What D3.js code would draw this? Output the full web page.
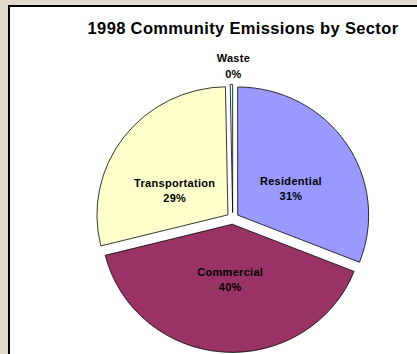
<!DOCTYPE html>
<html>
<head>
<meta charset="utf-8">
<script src="https://cdn.jsdelivr.net/npm/d3@7"></script>
<style>
  html, body { margin: 0; padding: 0; background: #e4dccd; }
  svg { display: block; }
</style>
</head>
<body>
<svg id="chart" width="417" height="354"></svg>
<script>
// Sector shares (percent of 1998 community emissions)
const sectors = ["Residential", "Commercial", "Transportation", "Waste"];
const shares  = [31.0, 40.1, 28.6, 0.3];
const colors  = ["#9999ff", "#993366", "#ffffcc", "#ccffff"];
const title   = "1998 Community Emissions by Sector";

const svg = d3.select("#chart");
const W = 417, H = 354;

// beige page and white chart panel with dark left/top edge
svg.append("rect").attr("width", W).attr("height", H).attr("fill", "#e4dccd");
svg.append("rect").attr("x", 9).attr("y", 6).attr("width", W).attr("height", H)
  .attr("fill", "#ffffff").attr("stroke", "#000").attr("stroke-width", 2);

svg.append("text")
  .attr("x", 243).attr("y", 34)
  .attr("text-anchor", "middle")
  .attr("font-family", "Liberation Sans, Arial, sans-serif")
  .attr("font-weight", "bold").attr("font-size", 16.5)
  .attr("letter-spacing", 0.35)
  .attr("fill", "#000")
  .text(title);

const data = sectors.map((s, i) => ({ sector: s, value: shares[i], color: colors[i] }));
const total = d3.sum(shares);

const pie = d3.pie().value(d => d.value).sort(null).startAngle(0).endAngle(2 * Math.PI);
const arcs = pie(data);

const R = 131, explode = 6, cx = 232.7, cy = 218.4, sy = 0.978;
const arc = d3.arc().innerRadius(0).outerRadius(R);

const g = svg.append("g").attr("transform", `translate(${cx},${cy}) scale(1,${sy})`);

const mid = a => (a.startAngle + a.endAngle) / 2;

g.selectAll("path.slice")
  .data(arcs)
  .join("path")
  .attr("class", "slice")
  .attr("transform", a => `translate(${Math.sin(mid(a)) * explode},${-Math.cos(mid(a)) * explode})`)
  .attr("d", arc)
  .attr("fill", a => a.data.color)
  .attr("stroke", "#000")
  .attr("stroke-width", 0.8)
  .attr("stroke-linejoin", "miter");

// data labels: name + rounded percentage
const nudge = { Residential: [2, 1], Commercial: [2, 6], Transportation: [-4, 5], Waste: [2, 1] };
const labels = svg.append("g")
  .attr("font-family", "Liberation Sans, Arial, sans-serif")
  .attr("font-weight", "bold").attr("font-size", 11)
  .attr("letter-spacing", 0.3)
  .attr("fill", "#000")
  .attr("text-anchor", "middle");

arcs.forEach(a => {
  const m = mid(a);
  const sx = Math.sin(m), syy = -Math.cos(m);
  const pct = Math.round(a.data.value / total * 100) + "%";
  const n = nudge[a.data.sector] || [0, 0];
  let x, y, gap;
  if (a.endAngle - a.startAngle < 0.1) {
    // thin slice: label sits outside the rim
    x = cx + sx * (R + explode) + n[0];
    y = cy + syy * (R + explode + 20) * sy + n[1];
    gap = 16.5;
  } else {
    x = cx + sx * (explode + 62) + n[0];
    y = cy + syy * (explode + 50) * sy + n[1];
    gap = 15;
  }
  labels.append("text").attr("x", x).attr("y", y - gap / 2 + 4).text(a.data.sector);
  labels.append("text").attr("x", x).attr("y", y + gap / 2 + 4).text(pct);
});
</script>
</body>
</html>
